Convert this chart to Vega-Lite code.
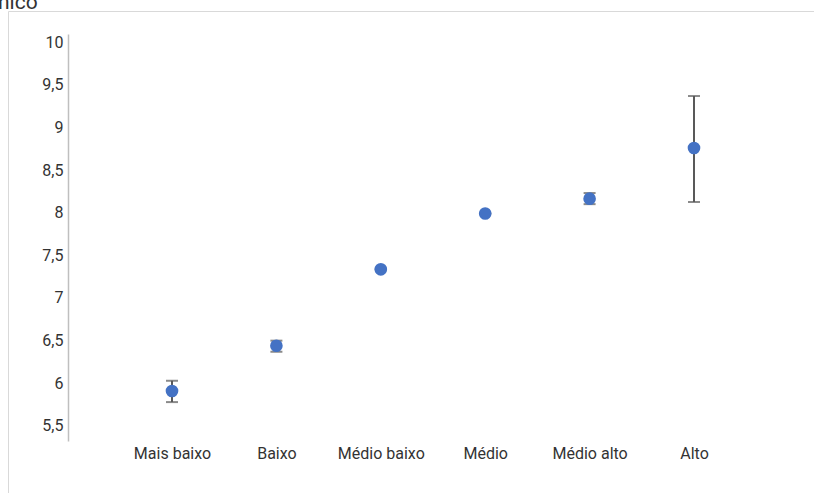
{
  "$schema": "https://vega.github.io/schema/vega-lite/v6.json",
  "width": 850,
  "height": 500,
  "autosize": {"type": "none"},
  "padding": {"left": 8, "top": 11, "right": 0, "bottom": 0},
  "background": "white",
  "title": {"text": "nico", "anchor": "start", "fontSize": 21, "fontWeight": "normal", "font": "Roboto", "color": "#333333", "offset": -2, "dx": -10},
  "config": {"view": {"stroke": "#d9d9d9", "strokeWidth": 1}},
  "data": {"values": [
    {"cat": "Mais baixo", "v": 5.91, "lo": 5.78, "hi": 6.03},
    {"cat": "Baixo", "v": 6.44, "lo": 6.37, "hi": 6.5},
    {"cat": "Médio baixo", "v": 7.336, "lo": 7.33, "hi": 7.34},
    {"cat": "Médio", "v": 7.99, "lo": 7.985, "hi": 7.995},
    {"cat": "Médio alto", "v": 8.164, "lo": 8.1, "hi": 8.23},
    {"cat": "Alto", "v": 8.758, "lo": 8.125, "hi": 9.367}
  ]},
  "encoding": {
    "x": {"field": "cat", "type": "ordinal", "sort": null, "title": null,
      "scale": {"type": "point", "range": [164, 686], "padding": 0},
      "axis": {"orient": "bottom", "offset": -66, "domain": false, "ticks": false, "grid": false, "labelAngle": 0, "labelPadding": 0, "labelFont": "Roboto", "labelFontSize": 16, "labelColor": "#333333"}}
  },
  "layer": [
    {"mark": {"type": "rule", "color": "#595959", "strokeWidth": 2},
     "encoding": {
       "y": {"field": "lo", "type": "quantitative", "title": null,
         "scale": {"domain": [5.324, 10.094], "range": [430, 23], "nice": false, "zero": false},
         "axis": {"offset": -60, "values": [5.5, 6, 6.5, 7, 7.5, 8, 8.5, 9, 9.5, 10], "labelExpr": "replace(format(datum.value, '.1~f'), '.', ',')", "domainColor": "#bfbfbf", "domainWidth": 1.5, "ticks": false, "grid": false, "labelPadding": 5, "labelFont": "Roboto", "labelFontSize": 16, "labelColor": "#333333"}},
       "y2": {"field": "hi"}}},
    {"mark": {"type": "tick", "color": "#595959", "thickness": 2, "size": 12},
     "encoding": {"y": {"field": "lo", "type": "quantitative"}}},
    {"mark": {"type": "tick", "color": "#595959", "thickness": 2, "size": 12},
     "encoding": {"y": {"field": "hi", "type": "quantitative"}}},
    {"mark": {"type": "point", "filled": true, "size": 160, "color": "#4472C4", "opacity": 1},
     "encoding": {"y": {"field": "v", "type": "quantitative"}}}
  ]
}
